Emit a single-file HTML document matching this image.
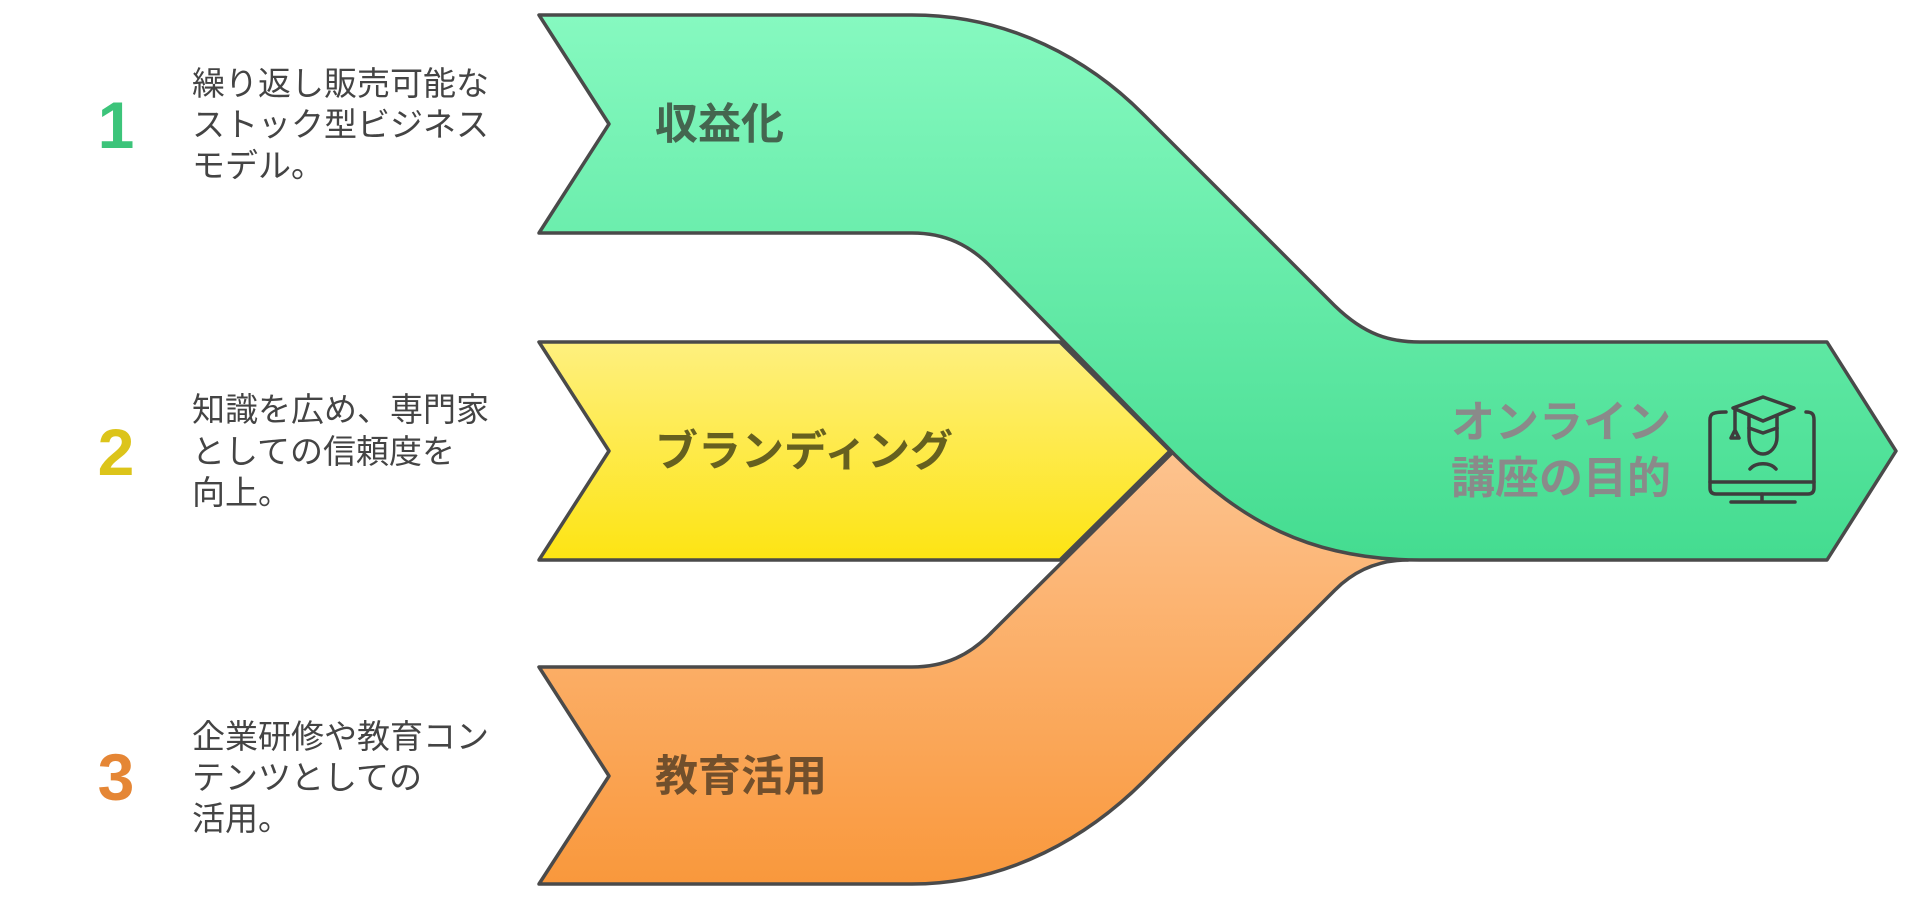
<!DOCTYPE html>
<html><head><meta charset="utf-8"><style>
html,body{margin:0;padding:0;background:#fff;width:1920px;height:916px;overflow:hidden}
svg text{font-family:"Liberation Sans","Noto Sans CJK JP",sans-serif}
</style></head><body>
<svg width="1920" height="916" viewBox="0 0 1920 916" xmlns="http://www.w3.org/2000/svg">
<defs>
<linearGradient id="gg" x1="0" y1="0" x2="0" y2="1"><stop offset="0" stop-color="#86f9c0"/><stop offset="1" stop-color="#44dc90"/></linearGradient>
<linearGradient id="gy" x1="0" y1="0" x2="0" y2="1"><stop offset="0" stop-color="#fef07f"/><stop offset="1" stop-color="#fde413"/></linearGradient>
<linearGradient id="go" x1="0" y1="0" x2="0" y2="1"><stop offset="0" stop-color="#fdc38f"/><stop offset="1" stop-color="#f9983c"/></linearGradient>
</defs>
<g stroke="#4a4a4a" stroke-width="3.5" stroke-linejoin="round">
<path d="M539,342 L1060,342 L1170,451 L1060,560 L539,560 L609,451 Z" fill="url(#gy)"/>
<path d="M539,667 L912,667 C945,667 970,655 992,632 L1175,450 L1300,520 L1408,560 C1380,560 1355,570 1335,590 L1145,780 C1090,835 1010,884 912,884 L539,884 L609,776 Z" fill="url(#go)"/>
<path d="M539,15 L912,15 C1010,15 1090,60 1145,116 L1335,306 C1365,335 1390,342 1420,342 L1827,342 L1896,451 L1827,560 L1420,560 C1310,560 1240,520 1175,455 L992,268 C970,245 945,233 912,233 L539,233 L609,124 Z" fill="url(#gg)"/>
</g>
<g font-weight="bold" font-size="66" text-anchor="middle">
<text x="116" y="148" fill="#3cc47a">1</text>
<text x="116" y="475" fill="#dcc41a">2</text>
<text x="116" y="800" fill="#e58635">3</text>
</g>
<g font-size="33" fill="#444">
<text x="192" y="95">繰り返し販売可能な</text>
<text x="192" y="136">ストック型ビジネス</text>
<text x="192" y="177">モデル。</text>
<text x="192" y="421">知識を広め、専門家</text>
<text x="192" y="463">としての信頼度を</text>
<text x="192" y="504">向上。</text>
<text x="192" y="748">企業研修や教育コン</text>
<text x="192" y="789">テンツとしての</text>
<text x="192" y="830">活用。</text>
</g>
<g font-weight="bold" font-size="43">
<text x="655" y="139" fill="#44664f">収益化</text>
<text x="655" y="466" fill="#66601f">ブランディング</text>
<text x="655" y="791" fill="#714f2c">教育活用</text>
</g>
<g font-weight="bold" font-size="44" fill="#8a8a8a">
<text x="1451" y="437">オンライン</text>
<text x="1451" y="493">講座の目的</text>
</g>
<g fill="none" stroke="#3d3d3d" stroke-width="3.5" stroke-linecap="round" stroke-linejoin="round">
<path d="M1726,412 C1712,412 1710,414 1710,420 L1710,482 L1814,482 L1814,420 C1814,414 1812,412 1806,412"/>
<path d="M1710,482 L1710,488 C1710,492 1712,494 1716,494 L1808,494 C1812,494 1814,492 1814,488 L1814,482"/>
<path d="M1762,494 L1762,502 M1731,502 L1795,502"/>
<path d="M1763,397 L1733,408 L1763,421 L1794,408 Z"/>
<path d="M1749,416 L1749,437 C1749,447 1756,454 1763,454 C1770,454 1777,447 1777,437 L1777,416"/>
<path d="M1749,428 L1763,433 L1777,428"/>
<path d="M1735,408 L1735,430 M1731,438 L1735,430 L1739,438 Z"/>
<path d="M1750,469 C1756,462 1770,462 1776,469"/>
</g>
</svg>
</body></html>
